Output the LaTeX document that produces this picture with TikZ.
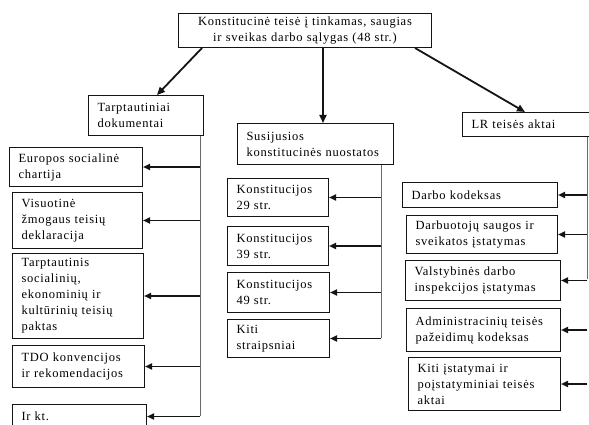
\documentclass[tikz,border=0pt]{standalone}
\usepackage{fontspec}
\setmainfont{Liberation Serif}[LetterSpace=6]
\usetikzlibrary{arrows.meta}
\definecolor{inkblack}{RGB}{20,20,20}
\definecolor{rulegray}{RGB}{105,105,105}
\tikzset{
  doc/.style={draw=inkblack, line width=1pt, anchor=north west, align=left,
    inner xsep=9pt, inner ysep=1pt, text width=#1pt,
    font=\fontsize{12.5}{16}\selectfont},
  lead/.style={-{Triangle[length=8pt,width=7pt]}, line width=1.8pt, color=inkblack},
  feed/.style={-{Triangle[length=7pt,width=6pt]}, line width=1.8pt, color=inkblack},
  bus/.style={line width=1pt, color=rulegray},
}
\begin{document}
\begin{tikzpicture}[x=1pt, y=-1pt]
  \useasboundingbox (0,0) rectangle (589,425);
  \clip (0,0) rectangle (589,425);

  \node[doc=235, align=center, minimum height=34] (top) at (178,13)
    {Konstitucinė teisė į tinkamas, saugias\\ir sveikas darbo sąlygas (48 str.)};

  % tarptautiniai dokumentai
  \node[doc=97, minimum height=40]  (tarpt) at (88,95)  {Tarptautiniai\\dokumentai};
  \node[doc=115, minimum height=39] (eur)   at (9,147)  {Europos socialinė\\chartija};
  \node[doc=112, minimum height=56] (visu)  at (12,192) {Visuotinė\\žmogaus teisių\\deklaracija};
  \node[doc=113, minimum height=85] (pakt)  at (12,253) {Tarptautinis\\socialinių,\\ekonominių ir\\kultūrinių teisių\\paktas};
  \node[doc=114, minimum height=42] (tdo)   at (12,345) {TDO konvencijos\\ir rekomendacijos};
  \node[doc=116, minimum height=24] (irkt)  at (12,404) {Ir kt.};

  % konstitucija
  \node[doc=138, minimum height=41] (susij) at (237,123) {Susijusios\\konstitucinės nuostatos};
  \node[doc=83, minimum height=38]  (k29)   at (227,178) {Konstitucijos\\29 str.};
  \node[doc=83, minimum height=39]  (k39)   at (227,226) {Konstitucijos\\39 str.};
  \node[doc=84, minimum height=40]  (k49)   at (227,272) {Konstitucijos\\49 str.};
  \node[doc=84, minimum height=38]  (kiti)  at (227,319) {Kiti\\straipsniai};

  % LR teises aktai
  \node[doc=122, minimum height=24] (lr)      at (462,112) {LR teisės aktai};
  \node[doc=137, minimum height=25] (darbo)   at (402,182) {Darbo kodeksas};
  \node[doc=133, minimum height=38] (darbuot) at (406,215) {Darbuotojų saugos ir\\sveikatos įstatymas};
  \node[doc=137, minimum height=40] (valst)   at (405,260) {Valstybinės darbo\\inspekcijos įstatymas};
  \node[doc=136, minimum height=43] (admin)   at (406,308) {Administracinių teisės\\pažeidimų kodeksas};
  \node[doc=134, minimum height=53] (kitiist) at (408,357) {Kiti įstatymai ir\\poįstatyminiai teisės\\aktai};

  \draw[lead] ([xshift=24pt]top.south west) -- ([xshift=69pt]tarpt.north west);
  \draw[lead] ([xshift=145pt]top.south west) -- ([xshift=86pt]susij.north west);
  \draw[lead] ([xshift=-17pt]top.south east) -- ([xshift=63pt]lr.north west);

  \coordinate (tbus) at (200,416);
  \coordinate (sbus) at (381,338);
  \coordinate (lbus) at (587,279);
  \draw[bus] (tbus |- tarpt.south) -- (tbus);
  \draw[bus] (sbus |- susij.south) -- (sbus);
  \draw[bus] (lbus |- lr.south) -- (lbus);

  \foreach \n in {eur,visu,pakt,tdo,irkt}
    \draw[feed] (tbus |- \n.east) -- (\n.east);
  \foreach \n in {k29,k39,k49,kiti}
    \draw[feed] (sbus |- \n.east) -- (\n.east);
  \foreach \n in {darbo,darbuot,valst,admin,kitiist}
    \draw[feed] (lbus |- \n.east) -- (\n.east);

\end{tikzpicture}
\end{document}
